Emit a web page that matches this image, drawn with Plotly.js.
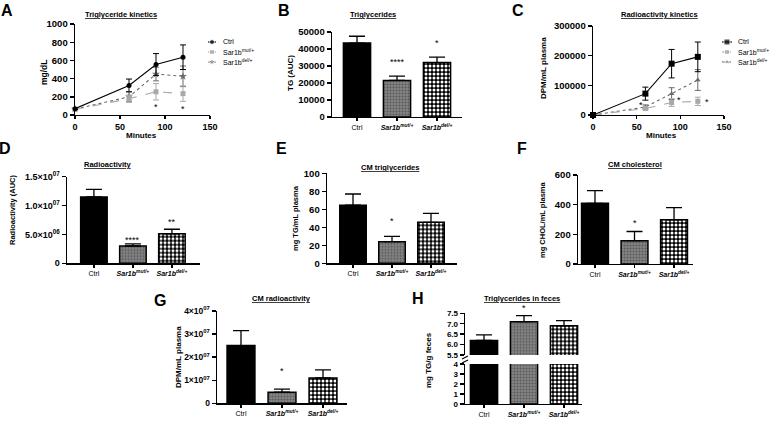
<!DOCTYPE html>
<html><head><meta charset="utf-8">
<script src="https://cdn.plot.ly/plotly-3.0.1.min.js"></script>
<style>html,body{margin:0;padding:0;background:#fff}</style>
</head><body><div id="chart" style="width:774px;height:424px"></div>
<script>
// ---------------- DATA ----------------
const minutes = [0, 60, 90, 120];
const seriesNames = ['Ctrl', 'Sar1b<sup>mut/+</sup>', 'Sar1b<sup>del/+</sup>'];

// A: Triglyceride kinetics (mg/dL)
const trigCtrl = [70, 325, 555, 635];
const trigCtrlErr = [10, 70, 120, 135];
const trigMut = [60, 180, 255, 235];
const trigMutErr = [8, 40, 90, 85];
const trigDel = [65, 200, 450, 425];
const trigDelErr = [8, 55, 75, 113];
const trigStarX = [90, 120];
const trigStarY = [112, 88];

// C: Radioactivity kinetics (DPM/mL plasma)
const radCtrl = [0, 72000, 173000, 196000];
const radCtrlErr = [0, 22000, 48000, 50000];
const radMut = [0, 22000, 42000, 46000];
const radMutErr = [0, 5000, 13000, 14000];
const radDel = [0, 27000, 72000, 118000];
const radDelErr = [0, 7000, 20000, 35000];
const radStarX = [55, 99, 130];
const radStarY = [40000, 58000, 50000];

// Bar panels
const groups = ['Ctrl', 'Sar1b mut/+', 'Sar1b del/+'];
const groupLabels = ['Ctrl', '<b><i>Sar1b</i></b><sup><b><i>mut/+</i></b></sup>', '<b><i>Sar1b</i></b><sup><b><i>del/+</i></b></sup>'];

const tgAUC = [43500, 21500, 32000];           // B
const tgAUCErr = [4000, 2500, 3200];
const tgAUCStars = ['', '****', '*'];
const tgAUCStarY = [null, 33500, 44700];

const radAUC = [1.15e7, 3.0e6, 5.1e6];         // D
const radAUCErr = [1.3e6, 3.5e5, 8e5];
const radAUCStars = ['', '****', '**'];
const radAUCStarY = [null, 4.4e6, 7.5e6];

const cmTG = [64.5, 24, 45.5];                 // E
const cmTGErr = [12.5, 6, 10];
const cmTGStars = ['', '*', ''];
const cmTGStarY = [null, 49, null];

const cmChol = [409, 157, 298];                // F
const cmCholErr = [85, 62, 82];
const cmCholStars = ['', '*', ''];
const cmCholStarY = [null, 290, null];

const cmRad = [2.5e7, 4.8e6, 1.1e7];           // G
const cmRadErr = [6.5e6, 1.3e6, 3.5e6];
const cmRadStars = ['', '*', ''];
const cmRadStarY = [null, 1.49e7, null];

const fecesTG = [6.2, 7.1, 6.9];               // H
const fecesTGErr = [0.27, 0.29, 0.25];
const fecesStars = ['', '*', ''];
const fecesStarY = [null, 7.86, null];

// Tick labels
const ticksTrig = [0, 200, 400, 600, 800, 1000];
const ticksMin = [0, 50, 100, 150];
const ticksTgAUC = [0, 10000, 20000, 30000, 40000, 50000];
const ticksRad = [0, 100000, 200000, 300000];
const ticksRadAUC = [0, 5e6, 1e7, 1.5e7];
const ticksRadAUCText = ['0', '5.0×10<sup>06</sup>', '1.0×10<sup>07</sup>', '1.5×10<sup>07</sup>'];
const ticksCmTG = [0, 20, 40, 60, 80, 100];
const ticksChol = [0, 200, 400, 600];
const ticksCmRad = [0, 1e7, 2e7, 3e7, 4e7];
const ticksCmRadText = ['0', '1×10<sup>07</sup>', '2×10<sup>07</sup>', '3×10<sup>07</sup>', '4×10<sup>07</sup>'];
const ticksFecesLow = [0, 1, 2, 3, 4];
const ticksFecesHigh = [5.5, 6.0, 6.5, 7.0, 7.5];

// ---------------- STYLE ----------------
const W = 774, H = 424;
const px = v => v / W, py = v => 1 - v / H;
const FONT = 'Liberation Sans, Arial, sans-serif';
const BLACK = '#000', LIGHT = '#a8a8a8', DARK = '#6a6a6a';

const axBase = {showline:true, linecolor:BLACK, linewidth:1.4, ticks:'outside', ticklen:4, tickwidth:1.4,
  tickcolor:BLACK, showgrid:false, zeroline:false, fixedrange:true,
  tickfont:{family:FONT, size:9.5, color:BLACK, weight:'bold'}};
function xNum(l, r, range, anchor, tickvals) {
  return Object.assign({}, axBase, {domain:[px(l), px(r)], range, anchor, tickvals, ticktext: tickvals.map(String),
    ticklen:3, tickfont:{family:FONT, size:9, color:BLACK, weight:'bold'}});
}
function yNum(top, bottom, range, anchor, tickvals, ticktext, fsize) {
  const a = Object.assign({}, axBase, {domain:[py(bottom), py(top)], range, anchor, tickvals,
    ticktext: ticktext || tickvals.map(String)});
  if (fsize) a.tickfont = {family:FONT, size:fsize, color:BLACK, weight:'bold'};
  return a;
}
function xCat(l, r, range, anchor) {
  return Object.assign({}, axBase, {type:'category', domain:[px(l), px(r)], range, anchor, tickvals:groups,
    ticktext:groupLabels, ticklen:3, tickfont:{family:FONT, size:7, color:BLACK}});
}
const hidden = {visible:false, fixedrange:true};

// one fill style per group: solid black, fine dark-gray texture, black with white dots
const barStyles = [
  {color:'#000', line:{color:BLACK, width:1.5}},
  {color:'#858585', line:{color:BLACK, width:1.5}, pattern:{fillmode:'overlay', shape:'.', fgcolor:'#2e2e2e', size:3, solidity:0.4}},
  {color:'#000', line:{color:BLACK, width:1.5}, pattern:{shape:'.', fgcolor:'#fff', bgcolor:'#000', size:4, solidity:0.45}}
];

function barTraces(xa, ya, vals, errs) {
  return groups.map((g, i) => ({type:'bar', x:[g], y:[vals[i]], xaxis:xa, yaxis:ya, width:0.68,
    marker:barStyles[i],
    error_y: errs ? {type:'data', symmetric:false, array:[errs[i]], arrayminus:[0],
      color:BLACK, thickness:1.3, width:8} : {visible:false},
    showlegend:false, hoverinfo:'skip'}));
}

const seriesStyle = {
  A: [{color:BLACK, symbol:'circle', dash:'solid', size:5}, {color:LIGHT, symbol:'square', dash:'dash', size:5}, {color:DARK, symbol:'star', dash:'dot', size:6}],
  C: [{color:BLACK, symbol:'square', dash:'solid', size:6}, {color:LIGHT, symbol:'square', dash:'dash', size:5}, {color:DARK, symbol:'triangle-up', dash:'dot', size:5}]
};
function lineTrace(xa, ya, y, err, st) {
  return {type:'scatter', mode:'lines+markers', x:minutes, y, xaxis:xa, yaxis:ya, cliponaxis:false,
    line:{color:st.color, width:1.1, dash:st.dash}, marker:{symbol:st.symbol, size:st.size, color:st.color},
    error_y:{type:'data', array:err, color:st.color, thickness:1, width:3}, showlegend:false, hoverinfo:'skip'};
}

const traces = [];
// A
const aData = [[trigCtrl, trigCtrlErr], [trigMut, trigMutErr], [trigDel, trigDelErr]];
[2, 1, 0].forEach(i => traces.push(lineTrace('x', 'y', aData[i][0], aData[i][1], seriesStyle.A[i])));
// C
const cData = [[radCtrl, radCtrlErr], [radMut, radMutErr], [radDel, radDelErr]];
[2, 1, 0].forEach(i => traces.push(lineTrace('x3', 'y3', cData[i][0], cData[i][1], seriesStyle.C[i])));
// Bars
traces.push(...barTraces('x2', 'y2', tgAUC, tgAUCErr));
traces.push(...barTraces('x4', 'y4', radAUC, radAUCErr));
traces.push(...barTraces('x5', 'y5', cmTG, cmTGErr));
traces.push(...barTraces('x6', 'y6', cmChol, cmCholErr));
traces.push(...barTraces('x7', 'y7', cmRad, cmRadErr));
traces.push(...barTraces('x8', 'y8', fecesTG, null));
traces.push(...barTraces('x8', 'y9', fecesTG, fecesTGErr));

// Legend keys (drawn in small dedicated key areas)
function legendKeys(xa, ya, styles, x0, x1) {
  styles.forEach((st, i) => traces.push({type:'scatter', mode:'lines+markers', x:[x0, (x0 + x1) / 2, x1], y:[i, i, i],
    xaxis:xa, yaxis:ya, cliponaxis:false, line:{color:st.color, width:1.1, dash:st.dash},
    marker:{symbol:st.symbol, size:[0, st.size, 0], color:st.color}, showlegend:false, hoverinfo:'skip'}));
}
legendKeys('x9', 'y10', seriesStyle.A, 0.2, 1.0);
legendKeys('x10', 'y11', seriesStyle.C, 0.2, 1.2);

// ---------------- LAYOUT ----------------
const layout = {
  width:W, height:H, margin:{l:0, r:0, t:0, b:0}, paper_bgcolor:'#fff', plot_bgcolor:'rgba(0,0,0,0)',
  showlegend:false, barmode:'overlay', bargap:0,
  font:{family:FONT, color:BLACK},
  xaxis: xNum(75, 210, [0, 150], 'y', ticksMin),
  yaxis: yNum(24, 115, [0, 1000], 'x', ticksTrig),
  xaxis2: xCat(332, 462, [-0.625, 2.625], 'y2'),
  yaxis2: yNum(32, 117, [0, 50000], 'x2', ticksTgAUC),
  xaxis3: xNum(593, 724, [0, 150], 'y3', ticksMin),
  yaxis3: yNum(26, 115, [0, 300000], 'x3', ticksRad),
  xaxis4: xCat(67, 200, [-0.69, 2.72], 'y4'),
  yaxis4: yNum(176.7, 263.3, [0, 1.5e7], 'x4', ticksRadAUC, ticksRadAUCText, 9),
  xaxis5: xCat(327, 457, [-0.667, 2.667], 'y5'),
  yaxis5: yNum(173.3, 263.3, [0, 100], 'x5', ticksCmTG),
  xaxis6: xCat(578, 693, [-0.43, 2.48], 'y6'),
  yaxis6: yNum(175, 264, [0, 600], 'x6', ticksChol),
  xaxis7: xCat(217, 347, [-0.585, 2.585], 'y7'),
  yaxis7: yNum(311, 403.3, [0, 4e7], 'x7', ticksCmRad, ticksCmRadText, 8.5),
  xaxis8: xCat(465, 582, [-0.475, 2.45], 'y8'),
  yaxis8: yNum(364, 404, [0, 4], 'x8', ticksFecesLow, null, 8),
  yaxis9: yNum(313.3, 355, [5.5, 7.5], 'x8', ticksFecesHigh, ticksFecesHigh.map(v => v.toFixed(1)), 8),
  xaxis9: Object.assign({}, hidden, {domain:[px(206), px(246)], range:[0, 4], anchor:'y10'}),
  yaxis10: Object.assign({}, hidden, {domain:[py(68), py(36)], range:[2.6, -0.6], anchor:'x9'}),
  xaxis10: Object.assign({}, hidden, {domain:[px(720), px(770)], range:[0, 5], anchor:'y11'}),
  yaxis11: Object.assign({}, hidden, {domain:[py(68), py(36)], range:[2.6, -0.6], anchor:'x10'}),
  annotations: [], shapes: []
};
const ann = layout.annotations;
function txt(x, y, text, size, opts) {
  ann.push(Object.assign({xref:'paper', yref:'paper', x:px(x), y:py(y), text, showarrow:false,
    xanchor:'center', yanchor:'middle', font:{family:FONT, size, color:BLACK}}, opts || {}));
}
// Panel letters
[['A', 7, 11], ['B', 284, 10], ['C', 518, 11], ['D', 5, 148], ['E', 281, 148], ['F', 522, 148], ['G', 160, 300], ['H', 418, 298]]
  .forEach(([t, x, y]) => txt(x, y, '<b>' + t + '</b>', 16));
// Panel titles
[['Triglyceride kinetics', 121, 15], ['Triglycerides', 373, 15], ['Radioactivity kinetics', 659, 15],
 ['Radioactivity', 108, 165], ['CM triglycerides', 390, 167], ['CM cholesterol', 635, 165],
 ['CM radioactivity', 281, 298], ['Triglycerides in feces', 522, 298]]
  .forEach(([t, x, y]) => txt(x, y, '<u><b>' + t + '</b></u>', 7.5));
// Axis titles
[['mg/dL', 44, 72, 8.5], ['TG (AUC)', 290, 73, 8], ['DPM/mL plasma', 544, 68, 8], ['Radioactivity (AUC)', 13, 210, 7.5],
 ['mg TG/mL plasma', 295, 218, 7.5], ['mg CHOL/mL plasma', 542, 220, 7.5], ['DPM/mL plasma', 178, 357, 8],
 ['mg TG/g feces', 428, 360, 8]]
  .forEach(([t, x, y, s]) => txt(x, y, '<b>' + t + '</b>', s, {textangle:-90}));
txt(141, 135, '<b>Minutes</b>', 8);
txt(661, 135, '<b>Minutes</b>', 8);
// Legend texts
seriesNames.forEach((n, i) => {
  ann.push({xref:'x9', yref:'y10', x:1.5, y:i, text:n, showarrow:false, xanchor:'left', yanchor:'middle', font:{family:FONT, size:7, color:BLACK}});
  ann.push({xref:'x10', yref:'y11', x:1.6, y:i, text:n, showarrow:false, xanchor:'left', yanchor:'middle', font:{family:FONT, size:7, color:BLACK}});
});
// Significance stars
function star(xref, yref, x, y, t) {
  ann.push({xref, yref, x, y, text:t, showarrow:false, xanchor:'center', yanchor:'middle', yshift:-2,
    font:{family:FONT, size:9, color:BLACK}});
}
trigStarX.forEach((x, i) => star('x', 'y', x, trigStarY[i], '*'));
radStarX.forEach((x, i) => star('x3', 'y3', x, radStarY[i], '*'));
[[tgAUCStars, tgAUCStarY, 'x2', 'y2'], [radAUCStars, radAUCStarY, 'x4', 'y4'], [cmTGStars, cmTGStarY, 'x5', 'y5'],
 [cmCholStars, cmCholStarY, 'x6', 'y6'], [cmRadStars, cmRadStarY, 'x7', 'y7']].forEach(([s, sy, xa, ya]) => {
  s.forEach((t, i) => { if (t) star(xa, ya, groups[i], sy[i], t); });
});
fecesStars.forEach((t, i) => { if (t) star('x8', 'y9 domain', groups[i], (fecesStarY[i] - 5.5) / (7.5 - 5.5), t); });
// Axis break marks on panel H
[357.5, 361.5].forEach(yb => layout.shapes.push({type:'line', xref:'paper', yref:'paper',
  x0:px(462), y0:py(yb + 1.5), x1:px(468), y1:py(yb - 1.5), line:{color:BLACK, width:1.2}}));

Plotly.newPlot('chart', traces, layout, {staticPlot:true, displayModeBar:false});
</script></body></html>
